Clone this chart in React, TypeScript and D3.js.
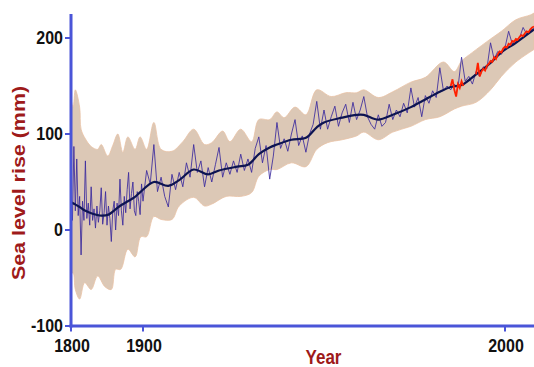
import * as d3 from "d3";

const W = 534;
const H = 367;

// the source axis is not uniform: 1800-1900 is squeezed into a short stretch
const X_TICKS = [1800, 1900, 2000];
const Y_TICKS = [-100, 0, 100, 200];

// smoothed curve
const smoothYears = [1800, 1805, 1812, 1820, 1830, 1842, 1852, 1861, 1870, 1879, 1888, 1897, 1903, 1907, 1910, 1914, 1918, 1921, 1926, 1929, 1932, 1935, 1937, 1941, 1945, 1948, 1950, 1955, 1959, 1961, 1965, 1969, 1974, 1978, 1982, 1985, 1988, 1990, 1992, 1996, 1999, 2003, 2007, 2008];
const smoothValues = [29, 27, 24, 20, 17, 15, 16, 21, 26, 30, 34, 40, 50, 46, 52, 63, 58, 62, 66, 68, 79, 86, 89, 94, 96, 107, 112, 117, 120, 120, 115, 120, 128, 136, 144, 149, 151, 156, 162, 174, 185, 195, 206, 209];

// raw record, 1800-1898 every second year, then yearly
const rawEarly = [40, 10, 87, 20, 74, 15, 35, -26, 30, 10, 72, 12, 28, 5, 45, 10, 22, 2, 25, 8, 20, 44, 6, 18, 40, 5, 25, 12, -12, 20, 30, 0, 28, 15, 53, 20, 5, 35, 18, 42, 60, 22, 38, 50, 20, 15, 40, 30, 16, 48];
const rawLate = [
  30, 62, 48, 89, 40, 55, 35, 24, 58, 42,
  60, 45, 70, 55, 89, 60, 72, 45, 65, 50,
  68, 86, 55, 70, 58, 72, 60, 79, 62, 74,
  60, 85, 97, 70, 88, 53, 77, 112, 85, 95,
  82, 100, 115, 88, 98, 81, 100, 110, 134, 105,
  125, 105, 118, 129, 108, 122, 131, 112, 133, 115,
  125, 139, 118, 110, 105, 120, 108, 112, 131, 115,
  125, 118, 132, 122, 148, 128, 138, 118, 140, 132,
  145, 138, 169, 145, 150, 146, 152, 148, 180, 155,
  160, 152, 165, 160, 170, 168, 195, 178, 186, 183,
  190, 207, 194, 197, 200, 211, 204, 208, 210,
];
const rawYears = d3.range(1800, 1900, 2).concat(d3.range(1900, 2009));
const rawValues = rawEarly.concat(rawLate);

// satellite-era record (red), half-year steps
const redYearsA = d3.range(1985, 1989, 0.5);
const redValuesA = [150, 157, 146, 139, 152, 148, 155, 150];
const redYearsB = d3.range(1992, 2008.01, 0.5);
const redValuesB = [162, 174, 160, 165, 168, 166, 171, 173, 176, 175, 180, 178, 183, 186, 185, 189, 191, 190, 194, 193, 197, 196, 199, 198, 201, 203, 202, 205, 207, 206, 209, 211, 212];

// uncertainty band
const upperYears = [1800, 1803, 1806, 1812, 1814, 1820, 1828, 1837, 1842, 1851, 1858, 1865, 1872, 1879, 1889, 1896, 1901, 1903, 1905, 1908, 1911, 1914, 1917, 1919, 1922, 1924, 1927, 1930, 1932, 1935, 1937, 1939, 1942, 1945, 1948, 1952, 1956, 1959, 1961, 1965, 1969, 1974, 1978, 1983, 1986, 1988, 1991, 1996, 1999, 2003, 2007, 2008];
const upperValues = [136, 128, 146, 128, 105, 95, 87, 84, 89, 77, 88, 100, 81, 97, 84, 97, 84, 112, 84, 82, 92, 105, 89, 91, 103, 92, 105, 92, 115, 115, 123, 117, 128, 120, 146, 139, 143, 143, 146, 138, 144, 154, 159, 175, 165, 176, 185, 199, 207, 219, 224, 226];
const lowerYears = [1800, 1803, 1806, 1812, 1819, 1828, 1837, 1847, 1856, 1862, 1869, 1879, 1889, 1897, 1901, 1903, 1905, 1908, 1910, 1914, 1917, 1919, 1923, 1927, 1930, 1932, 1935, 1937, 1941, 1945, 1948, 1951, 1955, 1959, 1961, 1965, 1969, 1974, 1978, 1982, 1986, 1988, 1992, 1996, 1999, 2003, 2008];
const lowerValues = [-45, -45, -62, -72, -55, -62, -48, -59, -62, -41, -41, -20, -28, -7, -7, 14, 11, 11, 25, 34, 25, 27, 35, 35, 39, 56, 63, 63, 70, 66, 84, 91, 94, 98, 102, 94, 102, 108, 115, 118, 126, 129, 133, 146, 160, 175, 188];

const AXIS = "#4a55d8";
const TITLE = "#9e1a1a";
const STRETCH = 1.16; // source text is stretched vertically

type Pt = [number, number];
const zip = (xs: number[], ys: number[]): Pt[] => xs.map((v, i) => [v, ys[i]]);

export default function App() {
  const x = d3.scaleLinear().domain(X_TICKS).range([71, 143, 505]);
  const y = d3.scaleLinear().domain([-100, 200]).range([326, 38]);

  const plain = d3.line<Pt>().x((d) => x(d[0])).y((d) => y(d[1]));
  const smooth = d3
    .line<Pt>()
    .x((d) => x(d[0]))
    .y((d) => y(d[1]))
    .curve(d3.curveCatmullRom.alpha(0.5));

  const up = smooth(zip(upperYears, upperValues)) || "";
  const lo = smooth(zip(lowerYears, lowerValues).reverse()) || "";
  const bandPath = up + "L" + lo.slice(1) + "Z";

  return (
    <svg width={W} height={H} style={{ position: "absolute", left: 0, top: 0, background: "#fff" }}>
      <defs>
        <clipPath id="plot">
          <rect x={71} y={0} width={W - 71} height={326} />
        </clipPath>
      </defs>

      <g clipPath="url(#plot)">
        <path d={bandPath} fill="#dcc8b6" stroke="#e8c2a4" strokeWidth={0.8} />
        <path d={plain(zip(rawYears, rawValues)) || ""} fill="none" stroke="#3b2a9e" strokeWidth={1} strokeOpacity={0.85} />
        <path d={smooth(zip(smoothYears, smoothValues)) || ""} fill="none" stroke="#0d1452" strokeWidth={2.2} />
        <path d={plain(zip(redYearsA, redValuesA)) || ""} fill="none" stroke="#ff2000" strokeWidth={1.8} />
        <path d={plain(zip(redYearsB, redValuesB)) || ""} fill="none" stroke="#ff2000" strokeWidth={1.8} />
      </g>

      {/* axes */}
      <line x1={71} x2={71} y1={14} y2={327.5} stroke={AXIS} strokeWidth={3} />
      <line x1={69.5} x2={W} y1={326} y2={326} stroke={AXIS} strokeWidth={3} />

      {Y_TICKS.map((t) => (
        <g key={`y-${t}`}>
          <line x1={65} x2={71} y1={y(t)} y2={y(t)} stroke={AXIS} strokeWidth={2} />
          <text
            transform={`translate(63,${y(t)}) scale(1,${STRETCH})`}
            dy="0.3em"
            textAnchor="end"
            fontFamily="'Liberation Sans', Arial, sans-serif"
            fontWeight="bold"
            fontSize={16}
            fill="#111"
          >
            {t}
          </text>
        </g>
      ))}

      {X_TICKS.map((t) => (
        <g key={`x-${t}`}>
          <line x1={x(t)} x2={x(t)} y1={326} y2={331.5} stroke={AXIS} strokeWidth={2} />
          <text
            transform={`translate(${x(t) + 1},352) scale(1,${STRETCH})`}
            textAnchor="middle"
            fontFamily="'Liberation Sans', Arial, sans-serif"
            fontWeight="bold"
            fontSize={16}
            fill="#111"
          >
            {t}
          </text>
        </g>
      ))}

      <text
        transform={`translate(24.5,183) scale(1,${STRETCH}) rotate(-90)`}
        textAnchor="middle"
        fontFamily="'Liberation Sans', Arial, sans-serif"
        fontWeight="bold"
        fontSize={18.5}
        fill={TITLE}
      >
        Sea level rise (mm)
      </text>
      <text
        transform={`translate(323.5,363.5) scale(1,${STRETCH})`}
        textAnchor="middle"
        fontFamily="'Liberation Sans', Arial, sans-serif"
        fontWeight="bold"
        fontSize={17}
        fill={TITLE}
      >
        Year
      </text>
    </svg>
  );
}
